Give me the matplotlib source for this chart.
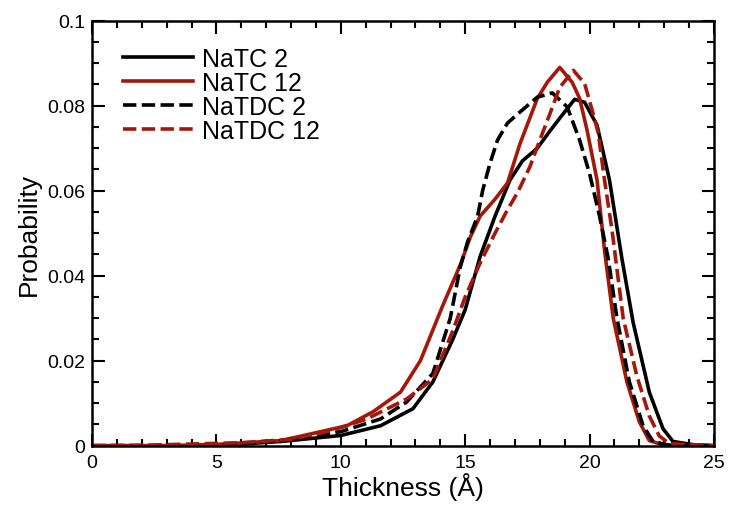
import matplotlib
matplotlib.use("Agg")
import matplotlib.pyplot as plt
from matplotlib.ticker import MultipleLocator

plt.rcParams["font.family"] = ["Liberation Sans", "DejaVu Sans"]

RED = "#a3180b"

# NaTC 2 (black solid)
natc2_x = [0, 5, 7.6, 10.0, 11.6, 12.9, 13.7, 14.5, 15.0, 15.6, 16.2, 16.8, 17.3, 17.9, 18.4,
           18.9, 19.4, 19.8, 20.3, 20.8, 21.3, 21.75, 22.4, 22.95, 23.35, 24.2, 25]
natc2_y = [0, 0, 0.001, 0.0024, 0.0047, 0.0087, 0.015, 0.025, 0.032, 0.0445, 0.054, 0.0625,
           0.067, 0.070, 0.074, 0.0778, 0.0815, 0.0808, 0.0754, 0.0625, 0.044, 0.029, 0.0126,
           0.004, 0.001, 0.0002, 0]

# NaTC 12 (red solid)
natc12_x = [0, 3, 5, 7.6, 10.25, 11.3, 12.4, 13.2, 14.1, 14.8, 15.2, 15.6, 16.2, 16.7, 17.2,
            17.9, 18.3, 18.8, 19.3, 19.6, 19.9, 20.3, 20.6, 20.95, 21.5, 22.0, 22.4, 22.95, 25]
natc12_y = [0, 0, 0.0003, 0.0012, 0.0047, 0.008, 0.0126, 0.020, 0.033, 0.0425, 0.049, 0.054,
            0.058, 0.0618, 0.071, 0.0817, 0.0855, 0.089, 0.0855, 0.0817, 0.0742, 0.0625,
            0.046, 0.030, 0.015, 0.0056, 0.0012, 0.0002, 0]

# NaTDC 2 (black dashed)
natdc2_x = [0, 5, 7.6, 10.0, 11.6, 12.65, 13.7, 14.4, 14.8, 15.1, 15.5, 15.7, 16.0, 16.3,
            16.7, 17.2, 17.9, 18.5, 19.1, 19.6, 20.0, 20.4, 20.75, 21.1, 21.6, 22.15, 22.55,
            23.2, 25]
natdc2_y = [0, 0, 0.0012, 0.0033, 0.0063, 0.0103, 0.017, 0.030, 0.042, 0.048, 0.054, 0.060,
            0.0665, 0.0719, 0.0759, 0.0785, 0.082, 0.083, 0.0797, 0.0719, 0.064, 0.054,
            0.044, 0.030, 0.015, 0.0047, 0.001, 0.0001, 0]

# NaTDC 12 (red dashed)
natdc12_x = [0, 2, 4, 6, 8, 9.6, 11.05, 12.65, 13.7, 14.5, 15.0, 15.6, 16.2, 16.7, 17.1,
             17.6, 18.0, 18.4, 18.8, 19.35, 19.8, 20.1, 20.35, 20.6, 20.9, 21.35, 21.9,
             22.4, 22.8, 23.2, 25]
natdc12_y = [0, 0.0001, 0.0004, 0.0007, 0.0015, 0.0035, 0.0063, 0.011, 0.0157, 0.027, 0.035,
             0.043, 0.050, 0.0555, 0.0595, 0.0656, 0.0719, 0.078, 0.0843, 0.0883, 0.0852,
             0.079, 0.0735, 0.0625, 0.0508, 0.030, 0.0164, 0.007, 0.0023, 0.0005, 0]

y_ticks = [0, 0.02, 0.04, 0.06, 0.08, 0.1]
y_tick_labels = ["0", "0.02", "0.04", "0.06", "0.08", "0.1"]

fig = plt.figure(figsize=(7.29, 5.06), dpi=100)
ax = fig.add_axes([0.1262, 0.1172, 0.8532, 0.840])

lw = 2.6
dash = (3.7, 1.5)
ax.plot(natc2_x, natc2_y, color="black", lw=lw, label="NaTC 2")
ax.plot(natc12_x, natc12_y, color=RED, lw=lw, label="NaTC 12")
ax.plot(natdc2_x, natdc2_y, color="black", lw=lw, dashes=dash, label="NaTDC 2")
ax.plot(natdc12_x, natdc12_y, color=RED, lw=lw, dashes=dash, label="NaTDC 12")

ax.set_xlim(0, 25)
ax.set_ylim(0, 0.1)
ax.xaxis.set_major_locator(MultipleLocator(5))
ax.xaxis.set_minor_locator(MultipleLocator(1))
ax.set_yticks(y_ticks)
ax.set_yticklabels(y_tick_labels)
ax.yaxis.set_minor_locator(MultipleLocator(0.005))
ax.tick_params(which="both", direction="in", top=True, right=True, labelsize=14, width=1.5)
ax.tick_params(which="major", length=9)
ax.tick_params(which="minor", length=5)
ax.tick_params(axis="x", which="major", pad=6)
ax.tick_params(axis="y", which="major", pad=5)
for s in ax.spines.values():
    s.set_linewidth(1.8)

ax.set_xlabel("Thickness (Å)", fontsize=19, labelpad=1)
ax.set_ylabel("Probability", fontsize=19, labelpad=4)

ax.legend(loc="upper left", frameon=False, fontsize=18, handlelength=2.8,
          handletextpad=0.36, labelspacing=0.0, borderaxespad=0, borderpad=0,
          bbox_to_anchor=(0.0498, 0.939))

fig.savefig("out.png", dpi=100)
